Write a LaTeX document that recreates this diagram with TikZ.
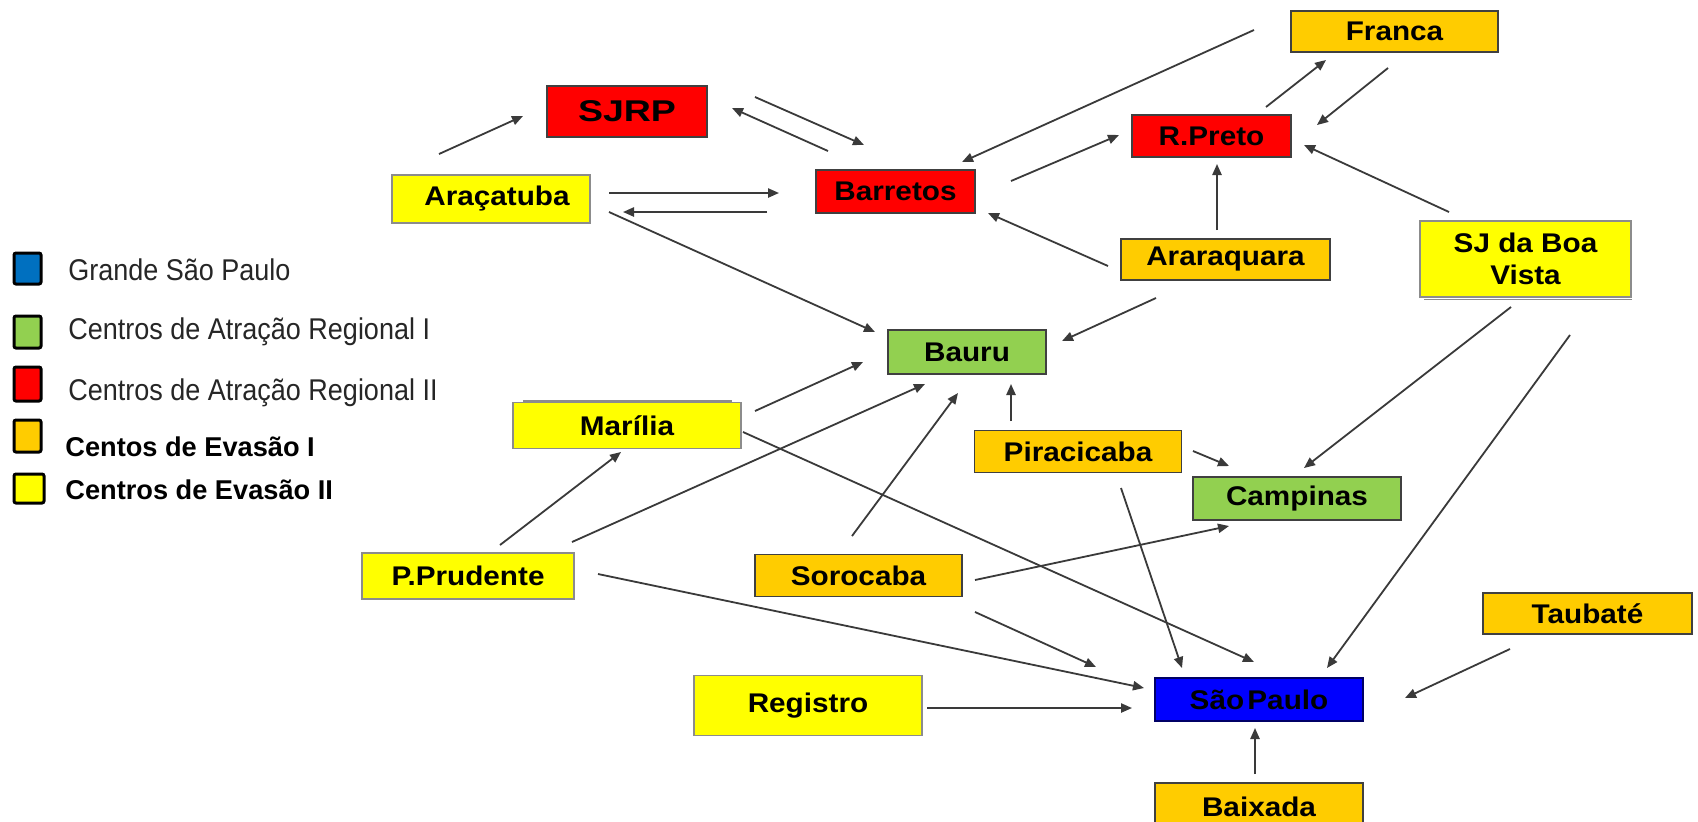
\documentclass[tikz,border=0pt]{standalone}
\usepackage{fontspec}
\setmainfont{Liberation Sans}
\newfontfamily\boxfont{Liberation Sans}[FakeStretch=1.1]
\newfontfamily\sjrpfont{Liberation Sans}[FakeStretch=1.25]
\newfontfamily\legfont{Liberation Sans}[FakeStretch=0.9]
\usetikzlibrary{arrows.meta}
\definecolor{cyel}{HTML}{FFFF00}
\definecolor{corg}{HTML}{FFCC00}
\definecolor{cred}{HTML}{FF0000}
\definecolor{cgrn}{HTML}{92D050}
\definecolor{cspb}{HTML}{0000FF}
\definecolor{clegb}{HTML}{0070C0}
\definecolor{cedge}{HTML}{404040}
\definecolor{cyedge}{HTML}{8C8C8C}
\definecolor{carr}{HTML}{3A3A3A}
\tikzset{
  box/.style={draw=cedge, line width=0.8pt, inner sep=0pt, align=center,
    font=\boxfont\bfseries\fontsize{13.5pt}{16.25pt}\selectfont, text=black},
  ybox/.style={box, fill=cyel, draw=cyedge},
  obox/.style={box, fill=corg},
  rbox/.style={box, fill=cred},
  gbox/.style={box, fill=cgrn},
  bbox/.style={box, fill=cspb, draw=black!60!blue},
  arr/.style={draw=carr, line width=0.9pt, -{Triangle[length=5.5pt,width=4.6pt]}},
  legsq/.style={draw=black, line width=1.5pt, rounded corners=1pt},
  legreg/.style={anchor=west, inner sep=0pt, font=\legfont\fontsize{15pt}{18pt}\selectfont, text=black!85},
  legbold/.style={anchor=west, inner sep=0pt, font=\bfseries\fontsize{13.6pt}{16pt}\selectfont, text=black},
}
\begin{document}
\begin{tikzpicture}[x=0.5pt, y=-0.5pt]
\useasboundingbox (0,0) rectangle (1698,821);
\fill[white] (0,0) rectangle (1698,821);

% legend
\draw[legsq, fill=clegb] (14,253) rectangle (41,284);
\draw[legsq, fill=cgrn] (14,316) rectangle (41,348);
\draw[legsq, fill=cred] (14,367) rectangle (41,401);
\draw[legsq, fill=corg] (14,420) rectangle (41,452);
\draw[legsq, fill=cyel] (14,474) rectangle (44,503);
\node[legreg] (lg1) at (68,270) {Grande São Paulo};
\node[legreg] (lg2) at (68,332) {Centros de Atração Regional I};
\node[legreg] (lg3) at (68,393) {Centros de Atração Regional II};
\node[legbold] (lg4) at (65,447) {Centos de Evasão I};
\node[legbold] (lg5) at (65,490) {Centros de Evasão II};

% boxes
\node[rbox, minimum width=80pt, minimum height=25.5pt, font=\sjrpfont\bfseries\fontsize{15pt}{18pt}\selectfont] (sjrp) at (627,111.5) {SJRP};
\node[ybox, minimum width=99pt, minimum height=24pt] (ara) at (491,199) {\hspace*{6pt}Araçatuba};
\node[rbox, minimum width=79.5pt, minimum height=21.5pt] (bar) at (895.5,191.5) {Barretos};
\node[rbox, minimum width=79.5pt, minimum height=21pt] (rpr) at (1211.5,136) {R.Preto};
\node[obox, minimum width=103.5pt, minimum height=20.5pt] (fra) at (1394.5,31.5) {Franca};
\node[obox, minimum width=104.5pt, minimum height=20.5pt] (arq) at (1225.5,259.5) {Araraquara};
\draw[cyedge, line width=0.8pt] (1424,299.5) -- (1632,299.5);
\node[ybox, minimum width=105.5pt, minimum height=38pt] (sjb) at (1525.5,259) {SJ da Boa\\Vista};
\node[gbox, minimum width=79pt, minimum height=22pt] (bau) at (967,352) {Bauru};
\draw[cyedge, line width=0.8pt] (523,401) -- (732,401);
\node[ybox, minimum width=114pt, minimum height=23pt] (mar) at (627,425.5) {Marília};
\node[obox, minimum width=103.5pt, minimum height=21pt] (pir) at (1078,451.5) {Piracicaba};
\node[gbox, minimum width=104pt, minimum height=21.5pt] (cam) at (1297,498.5) {Campinas};
\node[ybox, minimum width=106pt, minimum height=23pt] (ppr) at (468,576) {P.Prudente};
\node[obox, minimum width=103.5pt, minimum height=21pt] (sor) at (858.5,575.5) {Sorocaba};
\node[obox, minimum width=104.5pt, minimum height=20.5pt] (tau) at (1587.5,613.5) {Taubaté};
\node[ybox, minimum width=114pt, minimum height=30pt] (reg) at (808,705.5) {Registro};
\node[bbox, minimum width=104pt, minimum height=21.5pt] (sp) at (1259,699.5) {São\hspace{0.12em}Paulo};
\node[obox, minimum width=104pt, minimum height=24pt] (bai) at (1259,807) {Baixada};

% connector end points
\path (439,154) coordinate (c1a) (523,116) coordinate (c1b)
      (755,97) coordinate (c2a) (864,145) coordinate (c2b)
      (828,151) coordinate (c3a) (732,108) coordinate (c3b)
      (609,193) coordinate (c4a) (779,193) coordinate (c4b)
      (767,212) coordinate (c5a) (623,212) coordinate (c5b)
      (1254,30) coordinate (c6a) (962,162) coordinate (c6b)
      (1011,181) coordinate (c7a) (1119,135) coordinate (c7b)
      (1266,107) coordinate (c8a) (1326,60) coordinate (c8b)
      (1388,68) coordinate (c9a) (1317,125) coordinate (c9b)
      (1217,230) coordinate (c10a) (1217,164) coordinate (c10b)
      (1449,212) coordinate (c11a) (1304,145) coordinate (c11b)
      (1108,266) coordinate (c12a) (988,213) coordinate (c12b)
      (1156,298) coordinate (c13a) (1062,341) coordinate (c13b)
      (609,212) coordinate (c14a) (875,332) coordinate (c14b)
      (755,411) coordinate (c15a) (863,362) coordinate (c15b)
      (500,545) coordinate (c16a) (621,452) coordinate (c16b)
      (572,542) coordinate (c17a) (925,384) coordinate (c17b)
      (852,536) coordinate (c18a) (958,393) coordinate (c18b)
      (1011,421) coordinate (c19a) (1011,384) coordinate (c19b)
      (1193,451) coordinate (c20a) (1229,466) coordinate (c20b)
      (1511,307) coordinate (c21a) (1304,468) coordinate (c21b)
      (1570,335) coordinate (c22a) (1327,668) coordinate (c22b)
      (743,432) coordinate (c23a) (1254,662) coordinate (c23b)
      (1121,488) coordinate (c24a) (1182,668) coordinate (c24b)
      (975,580) coordinate (c25a) (1229,526) coordinate (c25b)
      (975,612) coordinate (c26a) (1096,667) coordinate (c26b)
      (598,574) coordinate (c27a) (1144,688) coordinate (c27b)
      (927,708) coordinate (c28a) (1132,708) coordinate (c28b)
      (1510,649) coordinate (c29a) (1405,698) coordinate (c29b)
      (1255,774) coordinate (c30a) (1255,728) coordinate (c30b);

\foreach \i in {1,...,30} {\draw[arr] (c\i a) -- (c\i b);}
\end{tikzpicture}
\end{document}
